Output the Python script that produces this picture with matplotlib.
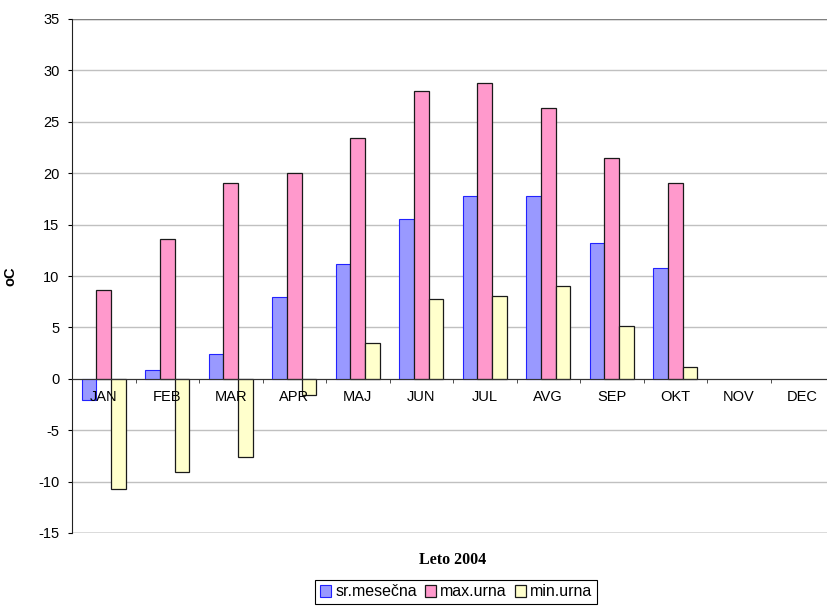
import numpy as np
import matplotlib.pyplot as plt

# monthly temperatures for 2004 (no data yet for NOV, DEC)
months = ["JAN", "FEB", "MAR", "APR", "MAJ", "JUN", "JUL", "AVG", "SEP", "OKT", "NOV", "DEC"]
sr_mesecna = [-2.1, 0.9, 2.4, 8.0, 11.2, 15.5, 17.8, 17.8, 13.2, 10.8, np.nan, np.nan]
max_urna = [8.6, 13.6, 19.0, 20.0, 23.4, 28.0, 28.8, 26.3, 21.5, 19.0, np.nan, np.nan]
min_urna = [-10.7, -9.1, -7.6, -1.6, 3.5, 7.8, 8.1, 9.0, 5.1, 1.1, np.nan, np.nan]

plt.rcParams['font.family'] = ['Liberation Sans', 'DejaVu Sans']
plt.rcParams['axes.unicode_minus'] = False

fig = plt.figure(figsize=(8.27, 6.06), dpi=100)
ax = fig.add_axes([72/827, 73/606, 762/827, 514/606])

x = np.arange(len(months))
w = 0.229
ax.bar(x - w, sr_mesecna, w, color="#9999FF", edgecolor="#2222FF", linewidth=0.8, label="sr.mesečna", zorder=3)
ax.bar(x, max_urna, w, color="#FF99CC", edgecolor="#1a1a1a", linewidth=0.9, label="max.urna", zorder=3)
ax.bar(x + w, min_urna, w, color="#FFFFCC", edgecolor="#1a1a1a", linewidth=0.9, label="min.urna", zorder=3)

ax.set_xlim(-0.5, len(months) - 0.5)
ax.set_ylim(-15, 35)
ax.set_yticks(np.arange(-15, 36, 5))
ax.yaxis.grid(True, color="#C0C0C0", linewidth=1.0, zorder=0)
ax.set_axisbelow(True)
# month names sit on top of the bars
ax.xaxis.set_zorder(5)

# plot area border lines top and bottom
ax.axhline(35, color="#808080", linewidth=1.0, zorder=1)
ax.axhline(-15, color="#808080", linewidth=1.0, zorder=1)

for s in ["top", "right"]:
    ax.spines[s].set_visible(False)
ax.spines["bottom"].set_position(("data", 0))
ax.spines["bottom"].set_color("#333333")
ax.spines["bottom"].set_zorder(4)
ax.spines["left"].set_color("#222222")

ax.set_xticks(x)
ax.set_xticklabels(months, fontsize=10.5)
ax.set_xticks(np.arange(0.5, len(months) - 0.5, 1), minor=True)
ax.tick_params(axis="x", which="major", length=0, pad=8)
ax.tick_params(axis="x", which="minor", length=3, direction="out", color="#333333")
ax.tick_params(axis="y", length=3, direction="out", labelsize=10.5, pad=6)

ax.set_ylabel("oC", fontsize=10.5, fontweight="bold")
ax.yaxis.set_label_coords(-0.072, 0.5)

fig.text(453/827, 46/606, "Leto 2004", ha="center", va="center",
         fontsize=11.5, fontweight="bold", family=["Liberation Serif", "DejaVu Serif"])

leg = fig.legend(loc="center", bbox_to_anchor=(456/827, 14/606), ncol=3, fontsize=11.5,
                 handlelength=0.7, handleheight=0.7, handletextpad=0.25, columnspacing=0.5,
                 borderpad=0.3, fancybox=False, frameon=True, edgecolor="black", framealpha=1)
leg.get_frame().set_linewidth(0.8)

fig.savefig("out.png", dpi=100)
